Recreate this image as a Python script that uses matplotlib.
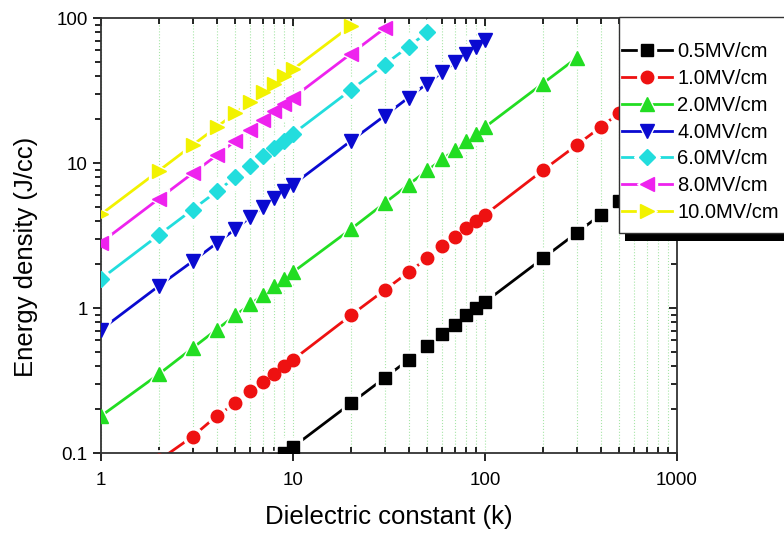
import matplotlib
matplotlib.use('Agg')
import matplotlib.pyplot as plt
from matplotlib.patches import Rectangle
from matplotlib.legend_handler import HandlerTuple

plt.rcParams['font.family'] = ['Liberation Sans', 'DejaVu Sans']

# Dielectric constant values (x)
k_vals = [1, 2, 3, 4, 5, 6, 7, 8, 9, 10,
          20, 30, 40, 50, 60, 70, 80, 90, 100,
          200, 300, 400, 500, 600, 700, 800, 900, 1000]

# Energy density (J/cc), one list per field
e_05 = [0.011, 0.022, 0.033, 0.044, 0.055, 0.066, 0.077, 0.089, 0.10, 0.11,
        0.22, 0.33, 0.44, 0.55, 0.66, 0.77, 0.89, 1.0, 1.1,
        2.2, 3.3, 4.4, 5.5, 6.6, 7.7, 8.9, 10.0, 11.1]
e_10 = [0.044, 0.089, 0.13, 0.18, 0.22, 0.27, 0.31, 0.35, 0.40, 0.44,
        0.89, 1.33, 1.77, 2.2, 2.66, 3.1, 3.54, 3.98, 4.4,
        8.9, 13.3, 17.7, 22.1, 26.6, 31.0, 35.4, 39.8, 44.3]
e_20 = [0.18, 0.35, 0.53, 0.71, 0.89, 1.06, 1.24, 1.42, 1.59, 1.77,
        3.5, 5.3, 7.1, 8.9, 10.6, 12.4, 14.2, 15.9, 17.7,
        35.4, 53.1]
e_40 = [0.71, 1.42, 2.1, 2.8, 3.5, 4.25, 5.0, 5.7, 6.4, 7.1,
        14.2, 21.2, 28.3, 35.4, 42.5, 49.6, 56.7, 63.7, 70.8]
e_60 = [1.59, 3.19, 4.78, 6.37, 7.97, 9.56, 11.2, 12.7, 14.3, 15.9,
        31.9, 47.8, 63.7, 79.7]
e_80 = [2.83, 5.67, 8.5, 11.3, 14.2, 17.0, 19.8, 22.7, 25.5, 28.3,
        56.7, 85.0]
e_100 = [4.43, 8.85, 13.3, 17.7, 22.1, 26.6, 31.0, 35.4, 39.8, 44.3,
         88.5]

series = [e_05, e_10, e_20, e_40, e_60, e_80, e_100]
labels = ['0.5MV/cm', '1.0MV/cm', '2.0MV/cm', '4.0MV/cm',
          '6.0MV/cm', '8.0MV/cm', '10.0MV/cm']
colors = ['#000000', '#ee1111', '#22dd22', '#0a0ad0',
          '#22dddd', '#ee22ee', '#f2f200']
markers = ['s', 'o', '^', 'v', 'D', '<', '>']
msizes = [8.5, 9, 10, 10, 8, 10, 10]

fig = plt.figure(figsize=(7.84, 5.33), dpi=100)
ax = fig.add_axes([0.1288, 0.150, 0.7347, 0.816])
ax.set_xscale('log')
ax.set_yscale('log')

handles = []
for vals, lab, c, m, ms in zip(series, labels, colors, markers, msizes):
    xs = k_vals[:len(vals)]
    ln, = ax.plot(xs, vals, '-', color=c, lw=2, zorder=2)
    gap, = ax.plot(xs, vals, ls='none', marker=m, ms=ms + 5,
                   mfc='white', mec='white', zorder=3)
    mk, = ax.plot(xs, vals, ls='none', marker=m, ms=ms,
                  mfc=c, mec=c, zorder=4)
    handles.append((ln, gap, mk))

ax.set_xlim(1, 1000)
ax.set_ylim(0.1, 100)
ax.set_xticks([1, 10, 100, 1000])
ax.set_xticklabels(['1', '10', '100', '1000'])
ax.set_yticks([0.1, 1, 10, 100])
ax.set_yticklabels(['0.1', '1', '10', '100'])

ax.grid(True, which='both', axis='x', color='#a8e6a8', ls=':', lw=0.8)
ax.set_axisbelow(True)

# spines above the white marker gaps, below the coloured markers
for s in ax.spines.values():
    s.set_linewidth(1.3)
    s.set_color('#333333')
    s.set_zorder(3.5)

ax.tick_params(axis='x', which='major', direction='out', length=6,
               width=1.2, labelsize=13.5, pad=8)
ax.tick_params(axis='x', which='minor', direction='in', length=4, width=1.2)
ax.tick_params(axis='y', which='both', direction='out', width=1.2,
               labelsize=13.5)
ax.tick_params(axis='y', which='major', length=6)
ax.tick_params(axis='y', which='minor', length=4)
ax.tick_params(top=True, right=True, which='both')

# top/right mirrored ticks point into the frame
for t in ax.xaxis.get_major_ticks() + ax.xaxis.get_minor_ticks():
    t.tick2line.set_marker(3)
for t in ax.yaxis.get_major_ticks() + ax.yaxis.get_minor_ticks():
    t.tick2line.set_marker(0)

ax.set_xlabel('Dielectric constant (k)', fontsize=18.5, labelpad=11)
ax.set_ylabel('Energy density (J/cc)', fontsize=18.5)
ax.yaxis.set_label_coords(-0.11, 0.45)

leg = ax.legend(handles, labels, handler_map={tuple: HandlerTuple(ndivide=1)},
                loc='upper left', bbox_to_anchor=(622 / 784, 1 - 42 / 533),
                bbox_transform=fig.transFigure, fontsize=14.5, frameon=False,
                handlelength=2.5, handletextpad=0.25, labelspacing=0.39,
                borderpad=0, borderaxespad=0)
leg.set_zorder(10)

# legend box with the heavy offset shadow
fw, fh = 784, 533
shadow = Rectangle(((619 + 6) / fw, 1 - (233 + 8) / fh), 200 / fw, 216 / fh,
                   transform=fig.transFigure, facecolor='black',
                   edgecolor='none', clip_on=False, zorder=8)
frame = Rectangle((619 / fw, 1 - 233 / fh), 200 / fw, 216 / fh,
                  transform=fig.transFigure, facecolor='white',
                  edgecolor='#333333', lw=1.0, clip_on=False, zorder=9)
ax.add_artist(shadow)
ax.add_artist(frame)

fig.savefig('out.png', dpi=100)
